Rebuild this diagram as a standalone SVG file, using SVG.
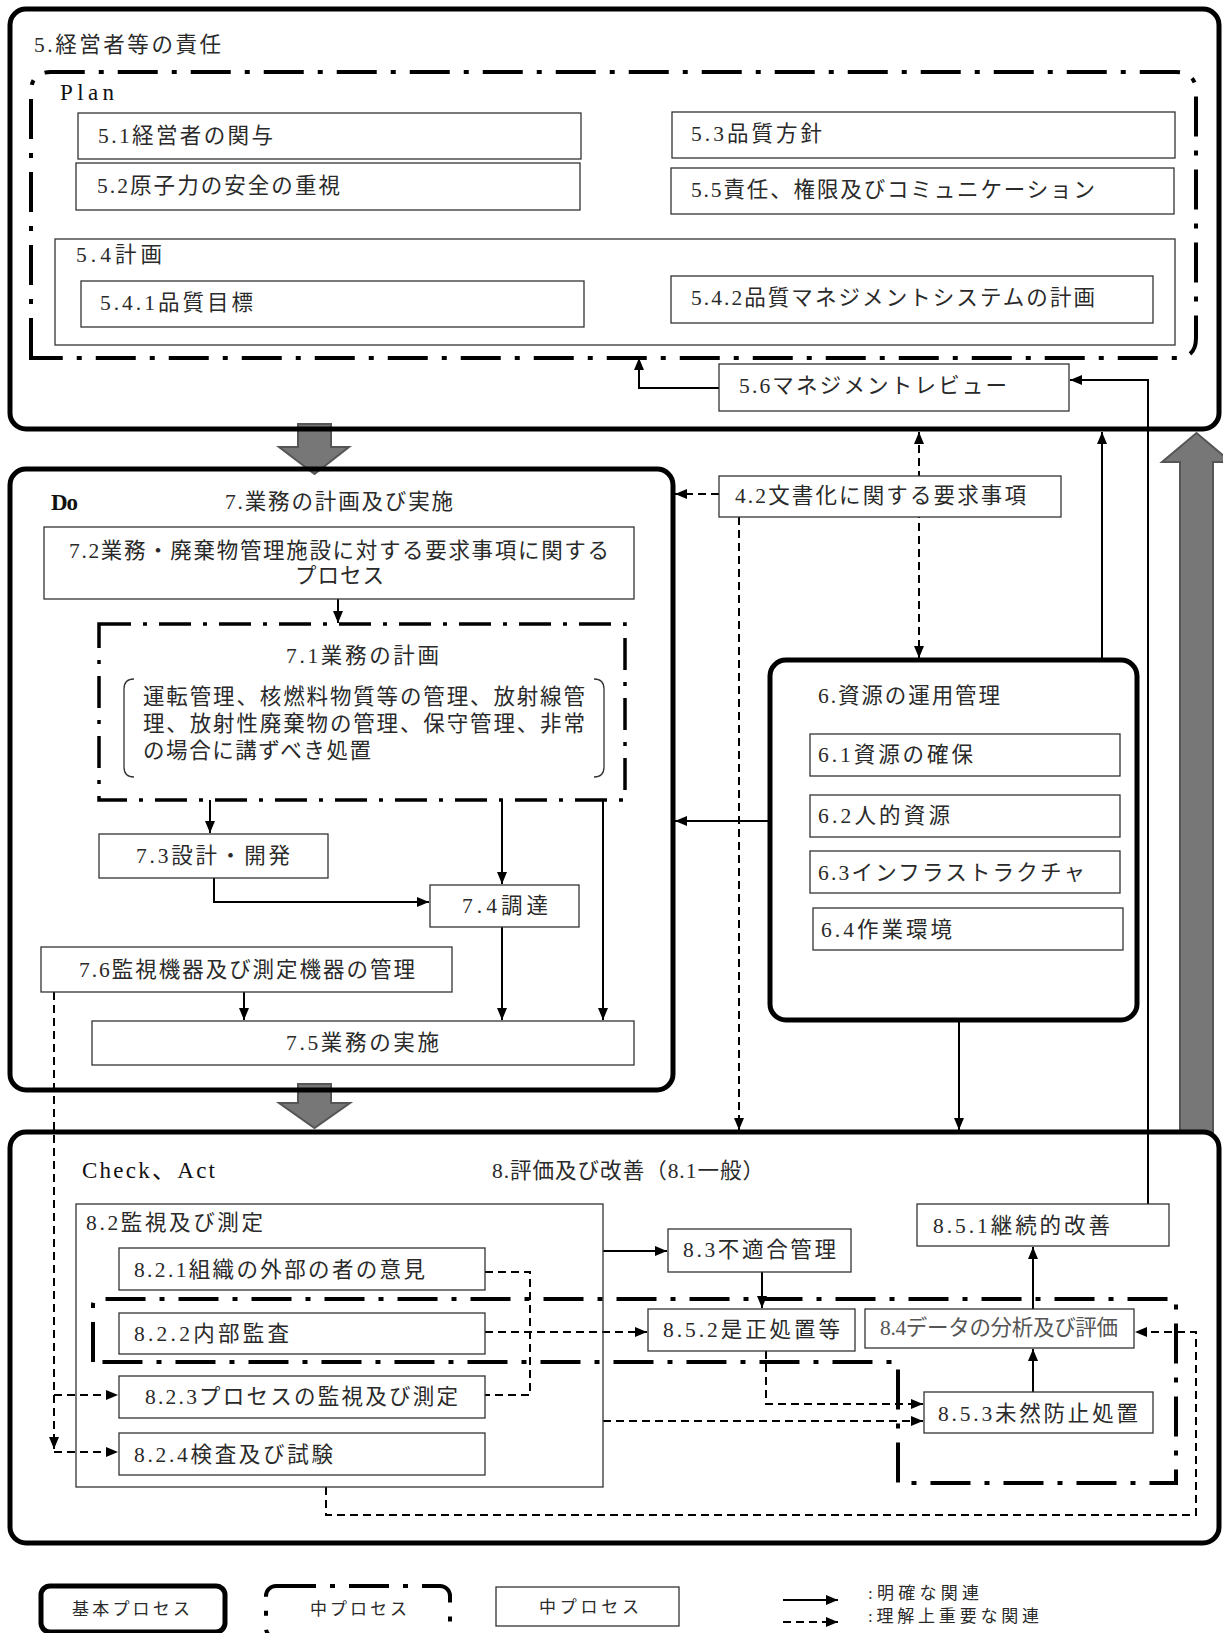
<svg xmlns="http://www.w3.org/2000/svg" width="1223" height="1633" viewBox="0 0 1223 1633">
  <defs>
    <style>
      .t { font-family: "Liberation Serif", "Noto Sans CJK JP", serif; font-size: 21.5px; fill: #2a2a2a; }
      .lat { font-family: "Liberation Serif", "Noto Sans CJK JP", serif; font-size: 23px; fill: #111; }
      .lg { font-family: "Liberation Serif", "Noto Sans CJK JP", serif; font-size: 17px; fill: #2a2a2a; }
      .box { fill: #fff; stroke: #333; stroke-width: 1.3; }
      .grp { fill: none; stroke: #333; stroke-width: 1.3; }
      .big { fill: none; stroke: #000; stroke-width: 5; }
      .dd { fill: none; stroke: #000; stroke-width: 4; stroke-dasharray: 40 14 5 14; }
      .dd2 { fill: none; stroke: #000; stroke-width: 3.5; stroke-dasharray: 32 12 4 12; }
      .ln { fill: none; stroke: #000; stroke-width: 2; }
      .dl { fill: none; stroke: #000; stroke-width: 2; stroke-dasharray: 8 5; }
      .fat { fill: #777; stroke: #555; stroke-width: 2; }
    </style>
    <marker id="ah" viewBox="0 0 12 10" refX="12" refY="5" markerWidth="12" markerHeight="10" markerUnits="userSpaceOnUse" orient="auto-start-reverse">
      <path d="M0,0 L12,5 L0,10 Z" fill="#000"/>
    </marker>
  </defs>

  <rect width="1223" height="1633" fill="#fff"/>

  <!-- broad PDCA flow arrows -->
  <g id="flow-arrows">
    <polygon class="fat" points="298,424 331,424 331,447 349,447 314.5,474 279,447 298,447"/>
    <polygon class="fat" points="298,1084 331,1084 331,1103 350,1103 314.5,1128 279,1103 298,1103"/>
    <polygon class="fat" points="1180,1132 1213,1132 1213,462 1231,462 1196.5,433 1162,462 1180,462"/>
  </g>

  <!-- 5. management responsibility -->
  <g id="n5">
    <rect class="big" x="10" y="9" width="1209" height="420" rx="16"/>
    <text class="t" x="34" y="52" textLength="187" lengthAdjust="spacing">5.経営者等の責任</text>
  </g>
  <g id="plan">
    <path class="dd" d="M31 358 V92 Q31 72 51 72 H1176 Q1196 72 1196 92 V338 Q1196 358 1176 358 Z"/>
    <text class="lat" x="60" y="100" textLength="54" lengthAdjust="spacing">Plan</text>
  </g>

  <!-- Do -->
  <g id="do">
    <rect class="big" x="10" y="469" width="663" height="621" rx="16"/>
    <text class="lat" x="51" y="510" font-weight="bold" font-size="22" textLength="27" lengthAdjust="spacing">Do</text>
    <text class="t" x="225" y="509" textLength="228" lengthAdjust="spacing">7.業務の計画及び実施</text>
  </g>

  <!-- Check, Act -->
  <g id="check">
    <rect class="big" x="10" y="1132" width="1209" height="411" rx="16"/>
    <text class="lat" x="82" y="1178" textLength="133" lengthAdjust="spacing">Check、Act</text>
    <text class="t" x="492" y="1178" textLength="272" lengthAdjust="spacing">8.評価及び改善（8.1一般）</text>
  </g>

  <!-- connectors -->
  <g id="connectors">
    <path class="ln" d="M719 388 H639 V358" marker-end="url(#ah)"/>
    <path class="ln" d="M1148 1204 V380 H1070" marker-end="url(#ah)"/>
    <path class="ln" d="M1102 660 V432" marker-end="url(#ah)"/>
    <path class="dl" d="M919 432 V658" marker-start="url(#ah)" marker-end="url(#ah)"/>
    <path class="dl" d="M719 494 H675" marker-end="url(#ah)"/>
    <path class="dl" d="M739 517 V1130" marker-end="url(#ah)"/>
    <path class="ln" d="M770 821 H675" marker-end="url(#ah)"/>
    <path class="ln" d="M959 1021 V1130" marker-end="url(#ah)"/>
    <path class="ln" d="M338 599 V623" marker-end="url(#ah)"/>
    <path class="ln" d="M210 800 V833" marker-end="url(#ah)"/>
    <path class="ln" d="M502 800 V884" marker-end="url(#ah)"/>
    <path class="ln" d="M603 800 V1020" marker-end="url(#ah)"/>
    <path class="ln" d="M214 878 V902 H429" marker-end="url(#ah)"/>
    <path class="ln" d="M502 927 V1020" marker-end="url(#ah)"/>
    <path class="ln" d="M244 992 V1020" marker-end="url(#ah)"/>
    <path class="dl" d="M54 992 V1449" marker-end="url(#ah)"/>
    <path class="dl" d="M54 1395 H118" marker-end="url(#ah)"/>
    <path class="dl" d="M54 1452 H118" marker-end="url(#ah)"/>
    <path class="dl" d="M485 1272 H530 V1395 H485"/>
    <path class="ln" d="M603 1251 H667" marker-end="url(#ah)"/>
    <path class="ln" d="M762 1272 V1308" marker-end="url(#ah)"/>
    <path class="dl" d="M485 1332 H647" marker-end="url(#ah)"/>
    <path class="dl" d="M766 1351 V1404 H923" marker-end="url(#ah)"/>
    <path class="dl" d="M603 1421 H923" marker-end="url(#ah)"/>
    <path class="ln" d="M1033 1392 V1349" marker-end="url(#ah)"/>
    <path class="ln" d="M1033 1309 V1247" marker-end="url(#ah)"/>
    <path class="dl" d="M326 1487 V1515 H1196 V1332 H1135" marker-end="url(#ah)"/>
  </g>

  <!-- Plan nodes -->
  <g id="n5-1">
    <rect class="box" x="78" y="113" width="503" height="46"/>
    <text class="t" x="98" y="143" textLength="175" lengthAdjust="spacing">5.1経営者の関与</text>
  </g>
  <g id="n5-2">
    <rect class="box" x="76" y="163" width="504" height="47"/>
    <text class="t" x="97" y="193" textLength="243" lengthAdjust="spacing">5.2原子力の安全の重視</text>
  </g>
  <g id="n5-3">
    <rect class="box" x="672" y="112" width="503" height="46"/>
    <text class="t" x="691" y="141" textLength="131" lengthAdjust="spacing">5.3品質方針</text>
  </g>
  <g id="n5-5">
    <rect class="box" x="671" y="168" width="503" height="46"/>
    <text class="t" x="691" y="197" textLength="404" lengthAdjust="spacing">5.5責任、権限及びコミュニケーション</text>
  </g>
  <g id="n5-4">
    <rect class="grp" x="55" y="239" width="1120" height="106"/>
    <text class="t" x="76" y="262" textLength="86" lengthAdjust="spacing">5.4計画</text>
  </g>
  <g id="n5-4-1">
    <rect class="box" x="81" y="281" width="503" height="46"/>
    <text class="t" x="100" y="310" textLength="153" lengthAdjust="spacing">5.4.1品質目標</text>
  </g>
  <g id="n5-4-2">
    <rect class="box" x="671" y="276" width="482" height="47"/>
    <text class="t" x="691" y="305" textLength="404" lengthAdjust="spacing">5.4.2品質マネジメントシステムの計画</text>
  </g>
  <g id="n5-6">
    <rect class="box" x="719" y="364" width="350" height="47"/>
    <text class="t" x="739" y="393" textLength="268" lengthAdjust="spacing">5.6マネジメントレビュー</text>
  </g>

  <!-- 4.2 documentation -->
  <g id="n4-2">
    <rect class="box" x="719" y="476" width="342" height="41"/>
    <text class="t" x="735" y="503" textLength="291" lengthAdjust="spacing">4.2文書化に関する要求事項</text>
  </g>

  <!-- Do nodes -->
  <g id="n7-2">
    <rect class="box" x="44" y="527" width="590" height="72"/>
    <text class="t" x="69" y="558" textLength="540" lengthAdjust="spacing">7.2業務・廃棄物管理施設に対する要求事項に関する</text>
    <text class="t" x="295" y="583" textLength="89" lengthAdjust="spacing">プロセス</text>
  </g>
  <g id="n7-1">
    <rect class="dd2" x="99" y="624" width="526" height="176"/>
    <text class="t" x="286" y="663" textLength="153" lengthAdjust="spacing">7.1業務の計画</text>
    <path class="grp" d="M134 679 Q124 679 124 689 V767 Q124 777 134 777 M594 679 Q604 679 604 689 V767 Q604 777 594 777"/>
    <text class="t" x="143" y="704" textLength="442" lengthAdjust="spacing">運転管理、核燃料物質等の管理、放射線管</text>
    <text class="t" x="143" y="731" textLength="442" lengthAdjust="spacing">理、放射性廃棄物の管理、保守管理、非常</text>
    <text class="t" x="143" y="758" textLength="228" lengthAdjust="spacing">の場合に講ずべき処置</text>
  </g>
  <g id="n7-3">
    <rect class="box" x="99" y="834" width="229" height="44"/>
    <text class="t" x="136" y="863" textLength="154" lengthAdjust="spacing">7.3設計・開発</text>
  </g>
  <g id="n7-4">
    <rect class="box" x="430" y="885" width="149" height="42"/>
    <text class="t" x="462" y="913" textLength="86" lengthAdjust="spacing">7.4調達</text>
  </g>
  <g id="n7-6">
    <rect class="box" x="41" y="947" width="411" height="45"/>
    <text class="t" x="79" y="977" textLength="336" lengthAdjust="spacing">7.6監視機器及び測定機器の管理</text>
  </g>
  <g id="n7-5">
    <rect class="box" x="92" y="1021" width="542" height="44"/>
    <text class="t" x="286" y="1050" textLength="153" lengthAdjust="spacing">7.5業務の実施</text>
  </g>

  <!-- 6. resource management -->
  <g id="n6">
    <rect class="big" x="770" y="660" width="367" height="360" rx="16"/>
    <text class="t" x="818" y="703" textLength="182" lengthAdjust="spacing">6.資源の運用管理</text>
  </g>
  <g id="n6-1">
    <rect class="box" x="810" y="734" width="310" height="42"/>
    <text class="t" x="818" y="762" textLength="155" lengthAdjust="spacing">6.1資源の確保</text>
  </g>
  <g id="n6-2">
    <rect class="box" x="810" y="795" width="310" height="42"/>
    <text class="t" x="818" y="823" textLength="132" lengthAdjust="spacing">6.2人的資源</text>
  </g>
  <g id="n6-3">
    <rect class="box" x="810" y="851" width="310" height="42"/>
    <text class="t" x="818" y="880" textLength="267" lengthAdjust="spacing">6.3インフラストラクチャ</text>
  </g>
  <g id="n6-4">
    <rect class="box" x="813" y="908" width="310" height="42"/>
    <text class="t" x="821" y="937" textLength="131" lengthAdjust="spacing">6.4作業環境</text>
  </g>

  <!-- Check / Act nodes -->
  <g id="n8-2">
    <rect class="grp" x="76" y="1204" width="527" height="283"/>
    <text class="t" x="86" y="1230" textLength="177" lengthAdjust="spacing">8.2監視及び測定</text>
  </g>
  <g id="n8-5-group">
    <path class="dd" d="M93 1362 V1305 Q93 1299 99 1299 H1176 V1483 H898 V1362 Z"/>
  </g>
  <g id="n8-2-1">
    <rect class="box" x="119" y="1248" width="366" height="42"/>
    <text class="t" x="134" y="1277" textLength="291" lengthAdjust="spacing">8.2.1組織の外部の者の意見</text>
  </g>
  <g id="n8-2-2">
    <rect class="box" x="119" y="1313" width="366" height="41"/>
    <text class="t" x="134" y="1341" textLength="155" lengthAdjust="spacing">8.2.2内部監査</text>
  </g>
  <g id="n8-2-3">
    <rect class="box" x="119" y="1376" width="366" height="42"/>
    <text class="t" x="145" y="1404" textLength="313" lengthAdjust="spacing">8.2.3プロセスの監視及び測定</text>
  </g>
  <g id="n8-2-4">
    <rect class="box" x="119" y="1433" width="366" height="42"/>
    <text class="t" x="134" y="1462" textLength="199" lengthAdjust="spacing">8.2.4検査及び試験</text>
  </g>
  <g id="n8-3">
    <rect class="box" x="668" y="1229" width="183" height="43"/>
    <text class="t" x="683" y="1257" textLength="153" lengthAdjust="spacing">8.3不適合管理</text>
  </g>
  <g id="n8-5-2">
    <rect class="box" x="648" y="1309" width="207" height="42"/>
    <text class="t" x="663" y="1337" textLength="177" lengthAdjust="spacing">8.5.2是正処置等</text>
  </g>
  <g id="n8-4">
    <rect class="box" x="865" y="1309" width="269" height="39"/>
    <text class="t" x="880" y="1335" font-size="20.5" textLength="238" lengthAdjust="spacing" style="fill:#555">8.4データの分析及び評価</text>
  </g>
  <g id="n8-5-1">
    <rect class="box" x="917" y="1204" width="252" height="42"/>
    <text class="t" x="933" y="1233" textLength="177" lengthAdjust="spacing">8.5.1継続的改善</text>
  </g>
  <g id="n8-5-3">
    <rect class="box" x="924" y="1392" width="229" height="41"/>
    <text class="t" x="938" y="1421" textLength="200" lengthAdjust="spacing">8.5.3未然防止処置</text>
  </g>

  <!-- legend -->
  <g id="legend">
    <rect class="big" x="41" y="1586" width="184" height="46" rx="9"/>
    <text class="lg" x="72" y="1615" textLength="118" lengthAdjust="spacing">基本プロセス</text>
    <rect class="dd" x="266" y="1586" width="184" height="52" rx="10"/>
    <text class="lg" x="310" y="1615" textLength="97" lengthAdjust="spacing">中プロセス</text>
    <rect class="box" x="496" y="1587" width="183" height="39"/>
    <text class="lg" x="539" y="1613" textLength="100" lengthAdjust="spacing">中プロセス</text>
    <path class="ln" d="M783 1600 H838" marker-end="url(#ah)"/>
    <path class="dl" d="M783 1622 H838" marker-end="url(#ah)"/>
    <text class="lg" x="868" y="1599" textLength="111" lengthAdjust="spacing">:明確な関連</text>
    <text class="lg" x="868" y="1622" textLength="171" lengthAdjust="spacing">:理解上重要な関連</text>
  </g>
</svg>
